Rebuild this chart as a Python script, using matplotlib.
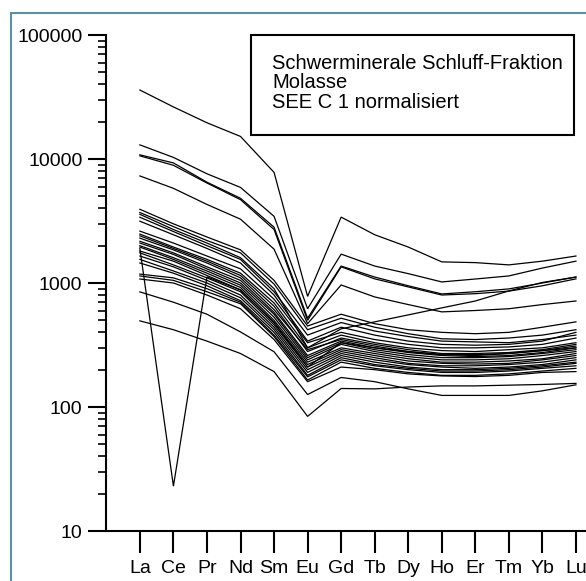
import matplotlib
matplotlib.use("Agg")
import matplotlib.pyplot as plt
from matplotlib.patches import Rectangle
from matplotlib.ticker import LogLocator, NullFormatter, FixedLocator, FixedFormatter

plt.rcParams['font.family'] = ['Liberation Sans', 'DejaVu Sans']

elemente = ["La", "Ce", "Pr", "Nd", "Sm", "Eu", "Gd", "Tb", "Dy", "Ho", "Er", "Tm", "Yb", "Lu"]

# Proben mit hohen LREE-Gehalten
hoch_1 = [36000, 26300, 19600, 15200, 7800, 780, 3400, 2450, 1950, 1480, 1460, 1400, 1500, 1650]
hoch_2 = [13000, 10300, 7600, 5900, 3450, 620, 1710, 1370, 1190, 1020, 1077, 1140, 1320, 1500]
hoch_3 = [10800, 9300, 6500, 4820, 2820, 520, 1370, 1117, 950, 816, 850, 896, 1000, 1117]
hoch_4 = [10600, 8900, 6400, 4700, 2700, 500, 1350, 1080, 930, 800, 820, 860, 950, 1080]
hoch_5 = [7300, 5800, 4300, 3270, 1875, 470, 964, 772, 670, 585, 600, 620, 670, 716]

# Hauptgruppe
haupt = [
    [3930, 3000, 2350, 1850, 1050, 450, 560, 470, 420, 400, 390, 400, 440, 486],
    [3700, 2850, 2200, 1750, 980, 420, 520, 440, 390, 355, 350, 360, 380, 420],
    [3580, 2700, 2100, 1600, 900, 300, 427, 486, 553, 630, 716, 863, 1010, 1117],
    [3390, 2600, 2000, 1550, 850, 380, 480, 410, 370, 340, 335, 330, 350, 380],
    [3150, 2450, 1900, 1450, 800, 340, 440, 380, 340, 320, 315, 320, 340, 400],
    [2620, 2100, 1650, 1300, 740, 330, 400, 350, 320, 300, 300, 305, 320, 360],
    [2480, 1950, 1550, 1200, 690, 300, 380, 330, 300, 285, 280, 290, 300, 330],
    [2400, 1900, 1500, 1150, 650, 280, 360, 320, 290, 270, 270, 275, 290, 320],
    [2300, 1850, 1450, 1100, 610, 290, 350, 310, 280, 265, 260, 270, 285, 310],
    [2170, 1750, 1350, 1050, 580, 260, 340, 300, 275, 260, 255, 260, 275, 300],
    [2100, 1700, 1300, 1000, 560, 250, 330, 290, 265, 250, 250, 255, 270, 290],
    [2000, 1600, 1250, 960, 530, 240, 320, 280, 255, 240, 240, 245, 260, 280],
    [1950, 1550, 1200, 920, 500, 230, 300, 270, 245, 230, 230, 235, 245, 270],
    [1810, 1500, 1150, 880, 480, 220, 290, 260, 235, 225, 222, 225, 240, 260],
    [1750, 1400, 1100, 850, 460, 210, 280, 250, 225, 215, 215, 220, 230, 250],
    [1650, 1350, 1050, 800, 440, 200, 270, 240, 220, 210, 205, 210, 220, 240],
    [1550, 1250, 1000, 760, 420, 190, 260, 230, 210, 200, 200, 205, 215, 230],
    [1450, 1200, 950, 720, 400, 180, 250, 220, 205, 195, 195, 200, 210, 225],
    [1180, 1100, 900, 700, 380, 175, 240, 215, 200, 190, 190, 195, 205, 215],
    [1140, 1050, 850, 680, 370, 165, 230, 205, 190, 180, 180, 185, 195, 205],
    [1077, 1000, 800, 620, 350, 160, 210, 200, 185, 178, 176, 180, 190, 193],
]

# Probe mit starker negativer Ce-Anomalie
ce_anomalie = [1900, 23, 1120, 880, 480, 210, 330, 300, 280, 265, 265, 270, 285, 300]

# Proben mit niedrigen Gehalten
niedrig_1 = [848, 700, 560, 403, 279, 126, 173, 160, 140, 124, 124, 124, 135, 151]
niedrig_2 = [495, 420, 340, 270, 193, 84, 141, 140, 145, 148, 148, 150, 152, 155]

proben = [hoch_1, hoch_2, hoch_3, hoch_4, hoch_5] + haupt + [ce_anomalie, niedrig_1, niedrig_2]

W, H = 586, 581
fig = plt.figure(figsize=(W / 100, H / 100), dpi=100)

# Achsenbereich in Pixeln: y-Achse bei x=106, 10 bei y=531, 100000 bei y=35
ax = fig.add_axes([106 / W, (H - 531) / H, (W - 106) / W, (531 - 35) / H])

x = list(range(len(elemente)))
for p in proben:
    ax.plot(x, p, color="black", lw=0.9, solid_joinstyle="miter")

ax.set_yscale("log")
ax.set_ylim(10, 100000)
ax.set_xlim(-1.01, 13.3)

ax.yaxis.set_major_locator(FixedLocator([10, 100, 1000, 10000, 100000]))
ax.yaxis.set_major_formatter(FixedFormatter(["10", "100", "1000", "10000", "100000"]))
ax.yaxis.set_minor_locator(LogLocator(base=10, subs=range(2, 10)))
ax.yaxis.set_minor_formatter(NullFormatter())

ax.set_xticks(x)
ax.set_xticklabels(elemente)

for s in ["top", "right"]:
    ax.spines[s].set_visible(False)
for s in ["left", "bottom"]:
    ax.spines[s].set_linewidth(1.5)

ax.tick_params(axis="y", which="major", direction="out", length=13, width=1.5, pad=4, labelsize=14)
ax.tick_params(axis="y", which="minor", direction="out", length=6, width=1.2)
ax.tick_params(axis="x", which="major", direction="out", length=16, width=1.5, pad=5, labelsize=14)

# Legendenkasten
fig.add_artist(Rectangle((251 / W, (H - 135) / H), (574 - 251) / W, 100 / H,
                         transform=fig.transFigure, fill=False, edgecolor="black", lw=1.5))
zeilen = ["Schwerminerale Schluff-Fraktion", "Molasse", "SEE C 1 normalisiert"]
for i, z in enumerate(zeilen):
    fig.text(272 / W, (H - 69 - i * 19.5) / H, z, fontsize=14.5, va="baseline", ha="left")

# Rahmen um die Grafik
fig.add_artist(Rectangle((11 / W, -0.05), 1.2, 1.05 - 13 / H,
                         transform=fig.transFigure, fill=False, edgecolor="#5b8fa3", lw=1.5))

fig.savefig("out.png", dpi=100, facecolor="white")
